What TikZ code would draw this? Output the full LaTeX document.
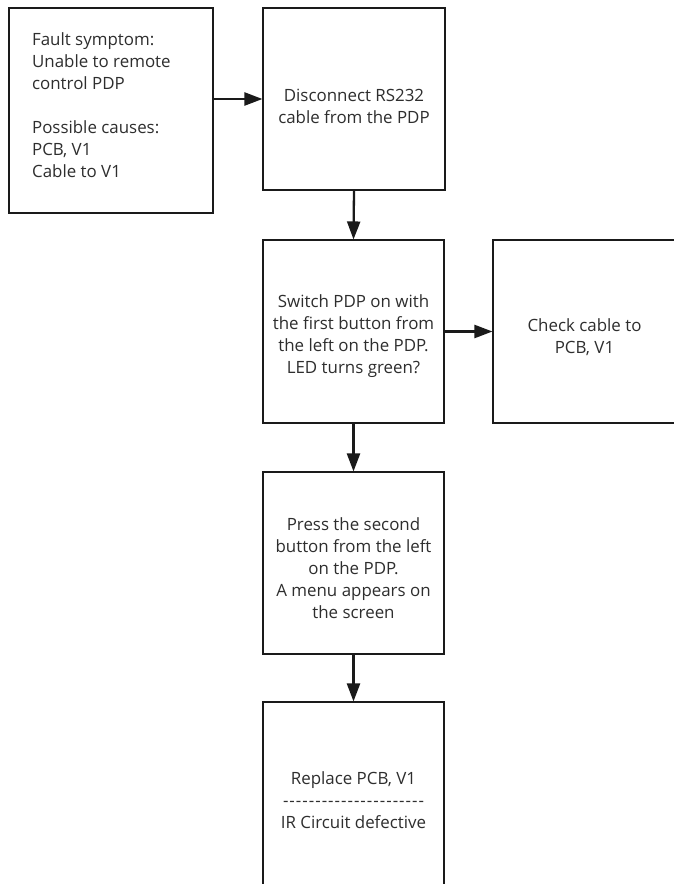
\documentclass[tikz,border=0pt]{standalone}
\usepackage{fontspec}
\setmainfont{Open Sans}
\newfontfamily\dashfont[LetterSpace=6]{Open Sans}
\usetikzlibrary{arrows.meta}
\definecolor{linec}{HTML}{1A1A1A}
\definecolor{textc}{HTML}{2E2E2E}
\newcommand{\boxfont}{\fontsize{16.9}{22}\selectfont}
\begin{document}
\begin{tikzpicture}[x=1pt,y=-1pt,
  box/.style={draw=linec, line width=1.1pt, rectangle, inner sep=0pt},
  txt/.style={inner sep=0pt, align=center, text=textc, font=\boxfont},
  flow/.style={draw=linec, line width=2.3pt, -{Triangle[length=18pt,width=13pt]}}]
\useasboundingbox[fill=white] (0,0) rectangle (674,884);

% boxes
\node[box, line width=2.2pt, minimum width=204pt, minimum height=205pt] (A) at (111,110.5) {};
\node[box, minimum width=182pt, minimum height=182pt] (B) at (354,99) {};
\node[box, minimum width=181pt, minimum height=183pt] (C) at (353.5,331.5) {};
\node[box, minimum width=183pt, minimum height=183pt] (D) at (584.5,331.5) {};
\node[box, minimum width=181pt, minimum height=182pt] (E) at (353.5,563) {};
\node[box, minimum width=181pt, minimum height=194pt] (F) at (353.5,799) {};

% texts
\node[txt, align=left, anchor=west] (At) at ([xshift=24pt,yshift=5pt]A.west)
  {Fault symptom:\\Unable to remote\\control PDP\\[22pt]Possible causes:\\PCB, V1\\Cable to V1};
\node[txt] (Bt) at ([yshift=-7pt]B.center) {Disconnect RS232\\cable from the PDP};
\node[txt] (Ct) at ([yshift=-5pt]C.center)
  {Switch PDP on with\\the first button from\\the left on the PDP.\\LED turns green?};
\node[txt] (Dt) at ([yshift=-6pt]D.center) {Check cable to\\PCB, V1};
\node[txt] (Et) at ([yshift=-5pt]E.center)
  {Press the second\\button from the left\\on the PDP.\\A menu appears on\\the screen};
\node[txt] (Ft) at ([yshift=-1pt]F.center)
  {Replace PCB, V1\\{\dashfont ----------------------}\\IR Circuit defective};

% connectors
\draw[flow] (A.east |- B.west) -- (B.west);
\draw[flow] (B.south) -- (C.north);
\draw[flow] (C.east) -- (D.west);
\draw[flow] (C.south) -- (E.north);
\draw[flow] (E.south) -- (F.north);
\end{tikzpicture}
\end{document}
